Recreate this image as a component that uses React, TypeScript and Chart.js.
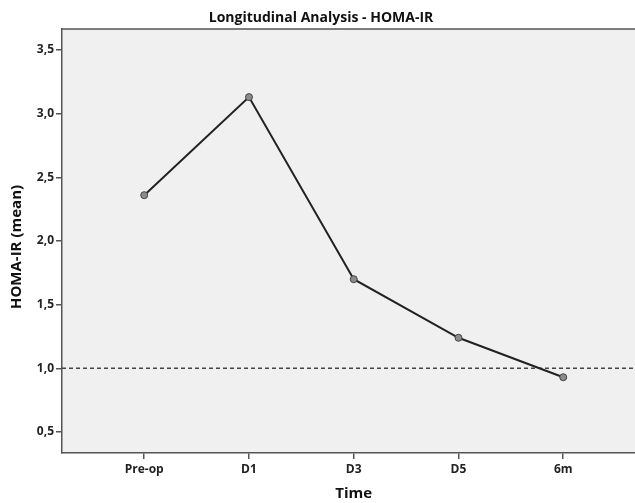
import React, { useEffect, useRef } from "react";
import { Chart, registerables } from "chart.js";

Chart.register(...registerables);

const categories = ["Pre-op", "D1", "D3", "D5", "6m"];
const homaMean = [2.36, 3.13, 1.7, 1.24, 0.93];
const yTicks = [0.5, 1.0, 1.5, 2.0, 2.5, 3.0, 3.5];
const referenceValue = 1.0;
const titleText = "Longitudinal Analysis - HOMA-IR";
const xTitle = "Time";
const yTitle = "HOMA-IR (mean)";

const X_MIN = -0.785;
const X_MAX = 4.685;
const Y_MIN = 0.335;
const Y_MAX = 3.665;
const FONT = "'Open Sans', Lato, sans-serif";

const decorPlugin = {
  id: "decor",
  beforeDraw(chart: any) {
    const { ctx, chartArea } = chart;
    ctx.save();
    ctx.fillStyle = "#ffffff";
    ctx.fillRect(0, 0, chart.width, chart.height);
    ctx.fillStyle = "#f0f0f0";
    ctx.fillRect(chartArea.left, chartArea.top, chartArea.right - chartArea.left, chartArea.bottom - chartArea.top);
    ctx.restore();
  },
  afterDraw(chart: any) {
    const { ctx, chartArea } = chart;
    ctx.save();
    ctx.strokeStyle = "#555";
    ctx.lineWidth = 1.5;
    ctx.beginPath();
    ctx.moveTo(chartArea.left, chartArea.top);
    ctx.lineTo(chartArea.right, chartArea.top);
    ctx.stroke();
    ctx.fillStyle = "#111";
    ctx.textAlign = "center";
    ctx.textBaseline = "alphabetic";
    ctx.font = `bold 14px ${FONT}`;
    ctx.fillText(titleText, chartArea.left + 259, chartArea.top - 7);
    ctx.font = `bold 15px ${FONT}`;
    const xs = chart.scales.x;
    ctx.fillText(xTitle, xs.getPixelForValue(2), chartArea.bottom + 45);
    ctx.translate(21, (chartArea.top + chartArea.bottom) / 2 + 6);
    ctx.rotate(-Math.PI / 2);
    ctx.fillText(yTitle, 0, 0);
    ctx.restore();
  },
};

export default function App() {
  const ref = useRef<HTMLCanvasElement | null>(null);
  useEffect(() => {
    document.body.style.margin = "0";
    const chart = new Chart(ref.current as HTMLCanvasElement, {
      type: "line",
      data: {
        datasets: [
          {
            data: homaMean.map((v, i) => ({ x: i, y: v })),
            borderColor: "#222",
            borderWidth: 2,
            pointRadius: 3.5,
            pointBackgroundColor: "#8c8c8c",
            pointBorderColor: "#444",
            pointBorderWidth: 1,
            tension: 0,
          },
          {
            data: [
              { x: X_MIN, y: referenceValue },
              { x: X_MAX, y: referenceValue },
            ],
            borderColor: "#444",
            borderWidth: 1.5,
            borderDash: [4, 3],
            pointRadius: 0,
          },
        ],
      },
      options: {
        animation: false,
        responsive: false,
        layout: { autoPadding: false, padding: { top: 29, right: 0, left: 0, bottom: 0 } },
        plugins: { legend: { display: false }, tooltip: { enabled: false }, title: { display: false } },
        scales: {
          x: {
            type: "linear",
            min: X_MIN,
            max: X_MAX,
            afterBuildTicks: (s: any) => {
              s.ticks = categories.map((_, i) => ({ value: i }));
            },
            afterFit: (s: any) => {
              s.height = 50;
              s.paddingRight = 0;
              s.paddingLeft = 0;
            },
            ticks: {
              callback: (v: any) => categories[Math.round(Number(v))] ?? "",
              color: "#222",
              font: { family: FONT, size: 12, weight: "bold" },
              padding: 3,
              maxRotation: 0,
              autoSkip: false,
            },
            grid: { drawOnChartArea: false, tickLength: 6, color: "#555", lineWidth: 1.5 },
            border: { color: "#555", width: 1.5 },
          },
          y: {
            type: "linear",
            min: Y_MIN,
            max: Y_MAX,
            afterBuildTicks: (s: any) => {
              s.ticks = yTicks.map((v) => ({ value: v }));
            },
            afterFit: (s: any) => {
              s.width = 62;
              s.paddingTop = 0;
              s.paddingBottom = 0;
            },
            ticks: {
              callback: (v: any) => Number(v).toFixed(1).replace(".", ","),
              color: "#222",
              font: { family: FONT, size: 12, weight: "bold" },
              padding: 2,
            },
            grid: { drawOnChartArea: false, tickLength: 6, color: "#555", lineWidth: 1.5 },
            border: { color: "#555", width: 1.5 },
          },
        },
      },
      plugins: [decorPlugin],
    } as any);
    return () => chart.destroy();
  }, []);
  return (
    <div style={{ position: "absolute", left: 0, top: 0, width: 635, height: 503 }}>
      <canvas ref={ref} width={635} height={503} style={{ width: 635, height: 503 }} />
    </div>
  );
}
